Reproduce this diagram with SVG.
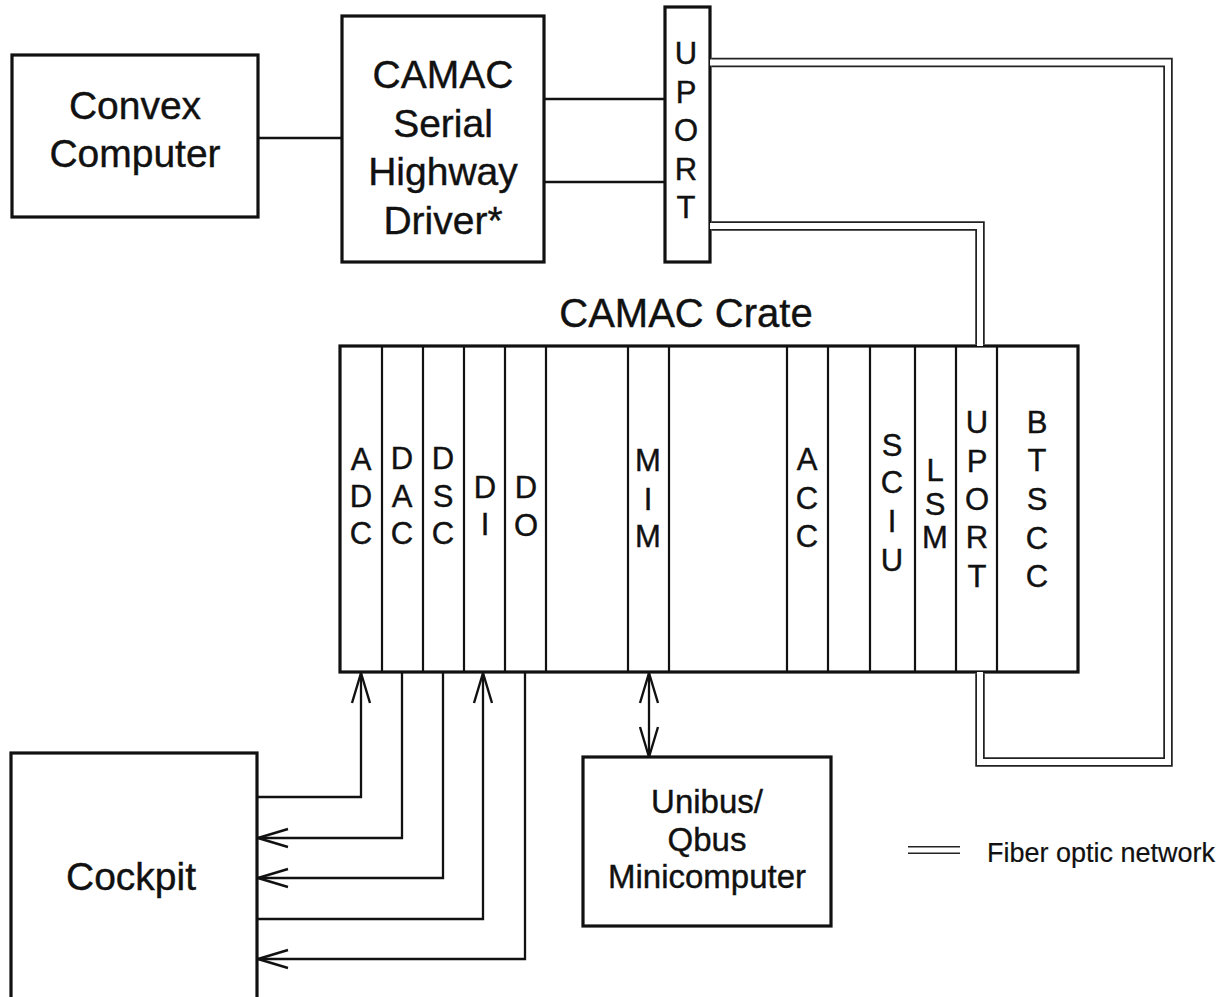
<svg xmlns="http://www.w3.org/2000/svg" width="1227" height="997" viewBox="0 0 1227 997">
<style>
.box{fill:#fff;stroke:#111;stroke-width:3.2}
.div{fill:none;stroke:#111;stroke-width:2.2}
.t{font-family:"Liberation Sans",Arial,Helvetica,sans-serif;fill:#111;text-anchor:middle;stroke:#111;stroke-width:0.4}
.big{font-size:39px}
.mid{font-size:33px}
.slot{font-size:31px}
.ln{fill:none;stroke:#111;stroke-width:2.3;stroke-linejoin:miter}
.fo{fill:none;stroke:#222;stroke-width:9.5;stroke-linejoin:miter}
.fi{fill:none;stroke:#fff;stroke-width:6;stroke-linejoin:miter}
</style>
<defs>
<marker id="arr" markerUnits="userSpaceOnUse" viewBox="0 0 32 22" refX="31" refY="11" markerWidth="32" markerHeight="22" orient="auto-start-reverse">
<path d="M1,2 L31,11 L1,20" fill="none" stroke="#111" stroke-width="2.4" stroke-linejoin="round"/>
</marker>
</defs>
<rect width="1227" height="997" fill="#fff"/>

<g id="convex">
<rect class="box" x="12" y="55" width="246" height="162"/>
<text class="t big" x="135" y="119">Convex</text>
<text class="t big" x="135" y="167">Computer</text>
</g>

<g id="serial-highway-driver">
<rect class="box" x="342" y="16" width="202" height="246"/>
<text class="t big" x="443" y="88">CAMAC</text>
<text class="t big" x="443" y="137">Serial</text>
<text class="t big" x="443" y="185">Highway</text>
<text class="t big" x="443" y="234">Driver*</text>
</g>

<g id="uport-top">
<rect class="box" x="665" y="7" width="45" height="255"/>
<text class="t slot" x="686"><tspan x="686" y="64">U</tspan><tspan x="686" y="103">P</tspan><tspan x="686" y="141">O</tspan><tspan x="686" y="180">R</tspan><tspan x="686" y="218">T</tspan></text>
</g>

<g id="camac-crate">
<text class="t" style="font-size:40px" x="686" y="327">CAMAC Crate</text>
<rect class="box" x="340" y="346" width="738" height="326"/>
<path class="div" d="M382,346V672M423,346V672M464,346V672M505,346V672M546,346V672M628,346V672M669,346V672M787,346V672M828,346V672M870,346V672M915,346V672M956,346V672M997,346V672"/>
<text class="t slot"><tspan x="361" y="470">A</tspan><tspan x="361" y="507">D</tspan><tspan x="361" y="544">C</tspan></text>
<text class="t slot"><tspan x="402" y="469">D</tspan><tspan x="402" y="507">A</tspan><tspan x="402" y="544">C</tspan></text>
<text class="t slot"><tspan x="443" y="469">D</tspan><tspan x="443" y="507">S</tspan><tspan x="443" y="544">C</tspan></text>
<text class="t slot"><tspan x="485" y="498">D</tspan><tspan x="485" y="535">I</tspan></text>
<text class="t slot"><tspan x="526" y="498">D</tspan><tspan x="526" y="536">O</tspan></text>
<text class="t slot"><tspan x="648" y="471">M</tspan><tspan x="648" y="510">I</tspan><tspan x="648" y="547">M</tspan></text>
<text class="t slot"><tspan x="807" y="470">A</tspan><tspan x="807" y="509">C</tspan><tspan x="807" y="547">C</tspan></text>
<text class="t slot"><tspan x="892" y="456">S</tspan><tspan x="892" y="493">C</tspan><tspan x="892" y="532">I</tspan><tspan x="892" y="571">U</tspan></text>
<text class="t slot"><tspan x="935" y="481">L</tspan><tspan x="935" y="515">S</tspan><tspan x="935" y="548">M</tspan></text>
<text class="t slot"><tspan x="977" y="433">U</tspan><tspan x="977" y="472">P</tspan><tspan x="977" y="510">O</tspan><tspan x="977" y="548">R</tspan><tspan x="977" y="587">T</tspan></text>
<text class="t slot"><tspan x="1037" y="433">B</tspan><tspan x="1037" y="471">T</tspan><tspan x="1037" y="510">S</tspan><tspan x="1037" y="549">C</tspan><tspan x="1037" y="587">C</tspan></text>
</g>

<g id="cockpit">
<rect class="box" x="11" y="753" width="246" height="260"/>
<text class="t big" x="131" y="890">Cockpit</text>
</g>

<g id="minicomputer">
<rect class="box" x="583" y="757" width="248" height="169"/>
<text class="t mid" x="707" y="813">Unibus/</text>
<text class="t mid" x="707" y="851">Qbus</text>
<text class="t mid" x="707" y="888">Minicomputer</text>
</g>

<g id="legend">
<path class="fo" style="stroke-width:8" d="M908,850H960"/>
<path class="fi" style="stroke-width:5" d="M906,850H962"/>
<text class="t" style="font-size:27px;text-anchor:start;stroke-width:0.2" x="987" y="862">Fiber optic network</text>
</g>

<g id="connectors">
<path class="ln" d="M258,138H342"/>
<path class="ln" d="M544,99H665"/>
<path class="ln" d="M544,182H665"/>
<path class="ln" d="M257,797H361V673" marker-end="url(#arr)"/>
<path class="ln" d="M402,673V838H258" marker-end="url(#arr)"/>
<path class="ln" d="M443,673V878H258" marker-end="url(#arr)"/>
<path class="ln" d="M257,919H483V673" marker-end="url(#arr)"/>
<path class="ln" d="M525,673V959H258" marker-end="url(#arr)"/>
<path class="ln" d="M649,673V757" marker-start="url(#arr)" marker-end="url(#arr)"/>
<g id="fiber">
<path class="fo" d="M711.5,62.5H1168V762H980V673.5"/>
<path class="fi" d="M710,62.5H1168V762H980V672"/>
<path class="fo" d="M711.5,226H980V344.5"/>
<path class="fi" d="M710,226H980V346"/>
</g>
</g>
</svg>
